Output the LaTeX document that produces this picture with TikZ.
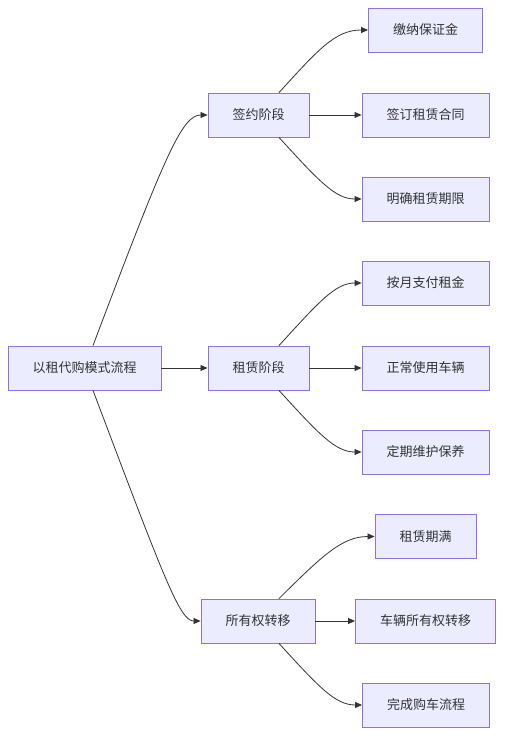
\documentclass[tikz,border=0pt]{standalone}
\usepackage{fontspec}
\newfontfamily\cjk{Noto Sans CJK SC}
\usetikzlibrary{arrows.meta}
\definecolor{blkline}{HTML}{9370DB}
\definecolor{blkfill}{HTML}{ECECFF}
\definecolor{ink}{HTML}{333333}

\begin{document}
\begin{tikzpicture}[x=1pt,y=-1pt,>={Triangle[length=7pt,width=6pt]},
  blk/.style={draw=blkline,fill=blkfill,line width=0.9pt,minimum height=44pt,inner xsep=24.5pt,inner ysep=0pt,font=\cjk\fontsize{13pt}{15pt}\selectfont,text=ink},
  link/.style={->,draw=ink,line width=0.8pt}]
\useasboundingbox (0,0) rectangle (506,735);
\node[blk] (root) at (84.5,368) {以租代购模式流程};
\node[blk] (sign) at (258.5,115) {签约阶段};
\node[blk] (lease) at (258.5,368) {租赁阶段};
\node[blk] (own) at (258,621) {所有权转移};
\node[blk] (deposit) at (425.5,30) {缴纳保证金};
\node[blk] (contract) at (425.5,115) {签订租赁合同};
\node[blk] (term) at (425.5,199) {明确租赁期限};
\node[blk] (rent) at (425.5,283) {按月支付租金};
\node[blk] (use) at (425.5,368) {正常使用车辆};
\node[blk] (care) at (425.5,452) {定期维护保养};
\node[blk] (expire) at (425.5,536.5) {租赁期满};
\node[blk] (transfer) at (425.5,621) {车辆所有权转移};
\node[blk] (finish) at (426,705) {完成购车流程};
\draw[link] ([xshift=8.5pt]root.north) .. controls (165,155) and (182,115) .. (sign.west);
\draw[link] (root) -- (lease);
\draw[link] ([xshift=8.5pt]root.south) .. controls (165,581) and (180,621) .. (own.west);
\draw[link] ([xshift=20.5pt]sign.north) .. controls (318,50) and (335,30) .. (deposit.west);
\draw[link] (sign) -- (contract);
\draw[link] ([xshift=20.5pt]sign.south) .. controls (318,180) and (335,199) .. (term.west);
\draw[link] ([xshift=20.5pt]lease.north) .. controls (318,303) and (335,283) .. (rent.west);
\draw[link] (lease) -- (use);
\draw[link] ([xshift=20.5pt]lease.south) .. controls (318,433) and (335,452) .. (care.west);
\draw[link] ([xshift=21pt]own.north) .. controls (322,556) and (342,536.5) .. (expire.west);
\draw[link] (own) -- (transfer);
\draw[link] ([xshift=21pt]own.south) .. controls (318,686) and (335,705) .. (finish.west);
\end{tikzpicture}
\end{document}
